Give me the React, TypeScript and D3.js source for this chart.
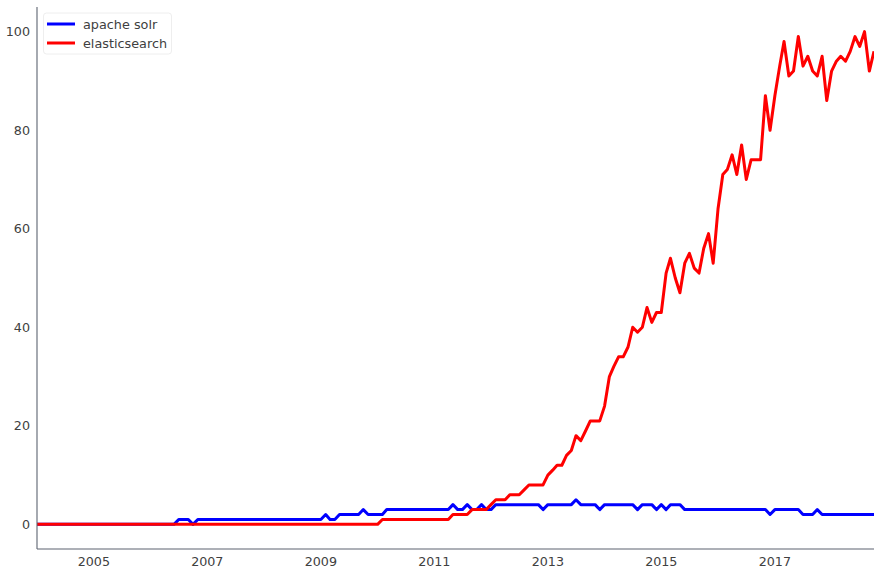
import React from "react";
import * as d3 from "d3";

const seriesNames = ["apache solr", "elasticsearch"];
const seriesColors = ["#0000ff", "#ff0000"];

// monthly values, Jan 2004 .. Oct 2018 (one row per year)
const solrValues = [
  0, 0, 0, 0, 0, 0, 0, 0, 0, 0, 0, 0,
  0, 0, 0, 0, 0, 0, 0, 0, 0, 0, 0, 0,
  0, 0, 0, 0, 0, 0, 1, 1, 1, 0, 1, 1,
  1, 1, 1, 1, 1, 1, 1, 1, 1, 1, 1, 1,
  1, 1, 1, 1, 1, 1, 1, 1, 1, 1, 1, 1,
  1, 2, 1, 1, 2, 2, 2, 2, 2, 3, 2, 2,
  2, 2, 3, 3, 3, 3, 3, 3, 3, 3, 3, 3,
  3, 3, 3, 3, 4, 3, 3, 4, 3, 3, 4, 3,
  3, 4, 4, 4, 4, 4, 4, 4, 4, 4, 4, 3,
  4, 4, 4, 4, 4, 4, 5, 4, 4, 4, 4, 3,
  4, 4, 4, 4, 4, 4, 4, 3, 4, 4, 4, 3,
  4, 3, 4, 4, 4, 3, 3, 3, 3, 3, 3, 3,
  3, 3, 3, 3, 3, 3, 3, 3, 3, 3, 3, 2,
  3, 3, 3, 3, 3, 3, 2, 2, 2, 3, 2, 2,
  2, 2, 2, 2, 2, 2, 2, 2, 2, 2,
];

const elasticValues = [
  0, 0, 0, 0, 0, 0, 0, 0, 0, 0, 0, 0,
  0, 0, 0, 0, 0, 0, 0, 0, 0, 0, 0, 0,
  0, 0, 0, 0, 0, 0, 0, 0, 0, 0, 0, 0,
  0, 0, 0, 0, 0, 0, 0, 0, 0, 0, 0, 0,
  0, 0, 0, 0, 0, 0, 0, 0, 0, 0, 0, 0,
  0, 0, 0, 0, 0, 0, 0, 0, 0, 0, 0, 0,
  0, 1, 1, 1, 1, 1, 1, 1, 1, 1, 1, 1,
  1, 1, 1, 1, 2, 2, 2, 2, 3, 3, 3, 3,
  4, 5, 5, 5, 6, 6, 6, 7, 8, 8, 8, 8,
  10, 11, 12, 12, 14, 15, 18, 17, 19, 21, 21, 21,
  24, 30, 32, 34, 34, 36, 40, 39, 40, 44, 41, 43,
  43, 51, 54, 50, 47, 53, 55, 52, 51, 56, 59, 53,
  64, 71, 72, 75, 71, 77, 70, 74, 74, 74, 87, 80,
  87, 93, 98, 91, 92, 99, 93, 95, 92, 91, 95, 86,
  92, 94, 95, 94, 96, 99, 97, 100, 92, 96,
];

const startMonth = new Date(2004, 0, 1);
const endMonth = new Date(2018, 9, 1);
const months = d3.timeMonth.range(startMonth, d3.timeMonth.offset(endMonth, 1));

const yTicks = [0, 20, 40, 60, 80, 100];
const xTickYears = [2005, 2007, 2009, 2011, 2013, 2015, 2017];

const W = 880;
const H = 576;
const M = { left: 37, right: 874, top: 7, bottom: 549 };
const FONT = "'DejaVu Sans', sans-serif";
const TEXT = "#404040";
const SPINE = "#5c6370";

export default function App() {
  const x = d3.scaleTime().domain([startMonth, endMonth]).range([M.left, M.right]);
  const y = d3.scaleLinear().domain([-5, 105]).range([M.bottom, M.top]);
  const line = d3
    .line<number>()
    .x((_, i) => x(months[i]))
    .y((v) => y(v));
  const all = [solrValues, elasticValues];

  return (
    <div style={{ position: "fixed", left: 0, top: 0 }}>
      <svg width={W} height={H} style={{ display: "block", background: "#fff" }}>
        <defs>
          <clipPath id="plot">
            <rect x={M.left} y={M.top} width={M.right - M.left} height={M.bottom - M.top} />
          </clipPath>
        </defs>
        <g clipPath="url(#plot)">
          {all.map((vals, k) => (
            <path
              key={k}
              d={line(vals) || ""}
              fill="none"
              stroke={seriesColors[k]}
              strokeWidth={3}
              strokeLinejoin="round"
            />
          ))}
        </g>
        <line x1={M.left} x2={M.left} y1={M.top} y2={M.bottom} stroke={SPINE} strokeWidth={1.1} />
        <line x1={M.left} x2={M.right} y1={M.bottom} y2={M.bottom} stroke={SPINE} strokeWidth={1.1} />
        {yTicks.map((t) => (
          <text
            key={t}
            x={M.left - 7}
            y={y(t)}
            dy="0.36em"
            textAnchor="end"
            fontFamily={FONT}
            fontSize={12.7}
            fill={TEXT}
          >
            {t}
          </text>
        ))}
        {xTickYears.map((yr) => (
          <text
            key={yr}
            x={x(new Date(yr, 0, 1))}
            y={M.bottom + 17}
            textAnchor="middle"
            fontFamily={FONT}
            fontSize={12.7}
            fill={TEXT}
          >
            {yr}
          </text>
        ))}
        <g>
          <rect x={43.5} y={13} width={128} height={41} rx={3} fill="#fff" fillOpacity={0.8} stroke="#eeeeee" />
          {seriesNames.map((n, k) => (
            <g key={n} transform={`translate(0, ${24 + k * 19})`}>
              <line x1={47} x2={75} y1={0} y2={0} stroke={seriesColors[k]} strokeWidth={3} />
              <text x={83} y={0} dy="0.36em" fontFamily={FONT} fontSize={12.8} fill={TEXT}>
                {n}
              </text>
            </g>
          ))}
        </g>
      </svg>
    </div>
  );
}
